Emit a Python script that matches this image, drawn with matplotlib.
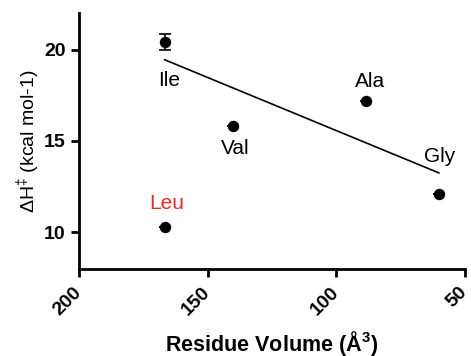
import numpy as np
import matplotlib
matplotlib.use("Agg")
import matplotlib.pyplot as plt

plt.rcParams['font.family'] = ['Liberation Sans', 'DejaVu Sans']
plt.rcParams['mathtext.fontset'] = 'custom'
plt.rcParams['mathtext.rm'] = 'Liberation Sans'
plt.rcParams['mathtext.bf'] = 'Liberation Sans:bold'

residues = ["Ile", "Val", "Ala", "Gly", "Leu"]
volume = [166.7, 140.0, 88.6, 60.1, 166.7]
dH = [20.4, 15.8, 17.2, 12.1, 10.3]
dH_err = [0.43, 0.0, 0.0, 0.0, 0.0]
label_colors = ["black", "black", "black", "black", "#f0281c"]
# label offsets in points (dx, dy), baseline-anchored
label_offsets = [(3, -31.5), (1.5, -20), (3.5, 10), (0.7, 23), (1.5, 13)]

fig = plt.figure(figsize=(4.71, 3.56), dpi=100)
ax = fig.add_axes([0.1677, 0.2444, 0.8193, 0.7191])

ax.errorbar(volume, dH, yerr=dH_err, fmt='o', color='black', ms=7.2,
            capsize=4, elinewidth=1.2, capthick=1.2, zorder=3)

# linear fit excluding Leu
fx = np.array(volume[:4])
fy = np.array(dH[:4])
slope, intercept = np.polyfit(fx, fy, 1)
xs = np.array([fx.max(), fx.min()])
ax.plot(xs, slope * xs + intercept, color='black', lw=1.2)

for name, x, y, c, off in zip(residues, volume, dH, label_colors, label_offsets):
    ax.annotate(name, (x, y), xytext=off, textcoords='offset points',
                ha='center', va='baseline', fontsize=15, color=c)

ax.set_xlim(200, 50)
ax.set_ylim(8, 22)
ax.set_xticks([200, 150, 100, 50])
ax.set_yticks([10, 15, 20])

for s in ['top', 'right']:
    ax.spines[s].set_visible(False)
for s in ['left', 'bottom']:
    ax.spines[s].set_linewidth(2)
ax.tick_params(width=2, length=6, labelsize=14, direction='out')
ax.tick_params(axis='x', pad=9)
for lab in ax.get_xticklabels():
    lab.set_fontweight('bold')
    lab.set_rotation(45)
    lab.set_ha('right')
    lab.set_va('center')
    lab.set_rotation_mode('anchor')
for lab in ax.get_yticklabels():
    lab.set_fontweight('bold')

ax.set_xlabel("Residue Volume (Å$^\\mathbf{3}$)", fontsize=15.5,
              fontweight='bold', labelpad=7)
ax.set_ylabel("ΔH$^{‡}$ (kcal mol-1)", fontsize=14, labelpad=1)

fig.savefig("out.png", dpi=100)
